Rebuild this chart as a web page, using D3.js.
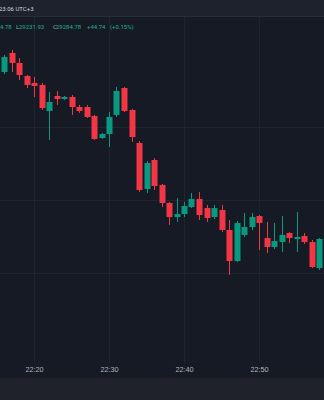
<!DOCTYPE html>
<html>
<head>
<meta charset="utf-8">
<script src="https://cdn.jsdelivr.net/npm/d3@7"></script>
<style>
  html, body { margin: 0; padding: 0; background: #161a25; overflow: hidden; }
  svg { display: block; font-family: Roboto, "Noto Sans", sans-serif; }
</style>
</head>
<body>
<div id="chart"></div>
<script>
// 1-minute candles, minutes after 22:00
const minutes = [16, 17, 18, 19, 20, 21, 22, 23, 24, 25, 26, 27, 28, 29, 30, 31, 32, 33, 34, 35, 36, 37,
    38, 39, 40, 41, 42, 43, 44, 45, 46, 47, 48, 49, 50, 51, 52, 53, 54, 55, 56, 57, 58];
const opens = [29575.3, 29601.4, 29587.7, 29569.9, 29560.3, 29557.6, 29521.9, 29542.5, 29538.4, 29541.1,
    29527.4, 29527.4, 29515.1, 29484.9, 29490.4, 29516.5, 29553.4, 29523.3, 29478.1, 29415.1, 29454.8,
    29420.6, 29395.9, 29376.7, 29380.8, 29390.4, 29401.4, 29389.0, 29376.7, 29386.3, 29358.9, 29316.4,
    29352.1, 29363.0, 29378.1, 29347.9, 29335.6, 29342.5, 29354.8, 29346.6, 29350.7, 29342.5, 29306.8];
const highs = [29598.6, 29605.5, 29594.5, 29571.2, 29568.5, 29560.3, 29548.0, 29549.3, 29542.5, 29543.9,
    29530.2, 29530.2, 29516.5, 29491.8, 29520.6, 29554.8, 29554.8, 29524.7, 29480.8, 29453.4, 29457.5,
    29421.9, 29397.3, 29402.7, 29397.3, 29409.6, 29411.0, 29393.2, 29393.2, 29393.2, 29372.6, 29371.2,
    29382.2, 29382.2, 29379.4, 29369.9, 29368.5, 29378.1, 29356.2, 29383.6, 29354.8, 29345.2, 29347.9];
const lows = [29572.6, 29575.3, 29564.4, 29553.4, 29541.1, 29523.3, 29482.2, 29530.2, 29537.0, 29516.5,
    29519.2, 29512.3, 29482.2, 29483.6, 29472.6, 29513.7, 29520.6, 29479.5, 29411.0, 29409.6, 29413.7,
    29390.4, 29365.8, 29369.9, 29376.7, 29389.0, 29372.6, 29369.9, 29374.0, 29356.2, 29297.3, 29315.1,
    29349.3, 29358.9, 29331.5, 29327.4, 29332.9, 29328.8, 29341.1, 29328.8, 29339.7, 29306.8, 29304.1];
const closes = [29595.9, 29587.7, 29571.2, 29557.6, 29556.2, 29526.0, 29534.3, 29538.4, 29541.1, 29527.4,
    29521.9, 29513.7, 29483.6, 29490.4, 29513.7, 29549.3, 29521.9, 29486.3, 29413.7, 29450.7, 29419.2,
    29395.9, 29376.7, 29380.8, 29391.8, 29401.4, 29379.4, 29375.3, 29389.0, 29358.9, 29316.4, 29368.5,
    29363.0, 29376.7, 29368.5, 29335.6, 29343.8, 29352.1, 29347.9, 29349.3, 29342.5, 29308.2, 29346.6];

const gridPrices = [29300, 29400, 29500];
const timeTicks = [20, 30, 40, 50];
const headerTime = '23:06 UTC+3';
const ohlcParts = [
    { text: '4.78', x: 0, cls: 'val' },
    { text: 'L', x: 16, cls: 'lab' },
    { text: '29231.93', x: 19, cls: 'val' },
    { text: 'C', x: 53, cls: 'lab' },
    { text: '29284.78', x: 56, cls: 'val' },
    { text: '+44.74', x: 87, cls: 'val' },
    { text: '(+0.15%)', x: 110, cls: 'val' }
];

const width = 324, height = 400;
const up = '#089981', down = '#f23645';

const toDate = m => new Date(2023, 0, 1, 22, m);
const candles = minutes.map((m, i) => ({
    t: toDate(m), o: opens[i], h: highs[i], l: lows[i], c: closes[i]
}));

const svg = d3.select('#chart').append('svg')
    .attr('width', width)
    .attr('height', height);

svg.append('rect')
    .attr('width', width).attr('height', height)
    .attr('fill', '#161a25');

const xScale = d3.scaleTime()
    .domain([toDate(20), toDate(50)])
    .range([34, 259]);

const yScale = d3.scaleLinear()
    .domain([29200, 29600])
    .range([346, 54]);

// grid
svg.append('g').selectAll('line')
    .data(gridPrices)
    .join('line')
    .attr('x1', 0).attr('x2', width)
    .attr('y1', d => Math.round(yScale(d)) + 0.5)
    .attr('y2', d => Math.round(yScale(d)) + 0.5)
    .attr('stroke', '#20242f');

svg.append('g').selectAll('line')
    .data(timeTicks)
    .join('line')
    .attr('x1', d => Math.round(xScale(toDate(d))) + 0.5)
    .attr('x2', d => Math.round(xScale(toDate(d))) + 0.5)
    .attr('y1', 17).attr('y2', 363)
    .attr('stroke', '#20242f');

// candles
const bodyW = 6;
const g = svg.append('g');

g.selectAll('.wick')
    .data(candles)
    .join('line')
    .attr('class', 'wick')
    .attr('x1', d => Math.round(xScale(d.t)) + 0.5)
    .attr('x2', d => Math.round(xScale(d.t)) + 0.5)
    .attr('y1', d => yScale(d.h))
    .attr('y2', d => yScale(d.l))
    .attr('stroke', d => d.c >= d.o ? up : down)
    .attr('stroke-width', 1);

g.selectAll('.body')
    .data(candles)
    .join('rect')
    .attr('class', 'body')
    .attr('x', d => Math.round(xScale(d.t)) - bodyW / 2 + 0.5)
    .attr('y', d => yScale(Math.max(d.o, d.c)))
    .attr('width', bodyW)
    .attr('height', d => Math.max(1.5, Math.abs(yScale(d.o) - yScale(d.c))))
    .attr('fill', d => d.c >= d.o ? up : down);

// time axis
const xAxis = d3.axisBottom(xScale)
    .tickValues(timeTicks.map(toDate))
    .tickFormat(d3.timeFormat('%H:%M'))
    .tickSize(0);

const xAxisG = svg.append('g')
    .attr('transform', 'translate(0,365)')
    .call(xAxis);
xAxisG.select('.domain').remove();
xAxisG.selectAll('text')
    .attr('fill', '#b2b5be')
    .style('font-size', '7.3px')
    .attr('dy', '0.6em');

// bottom bar
svg.append('rect')
    .attr('x', 0).attr('y', 378)
    .attr('width', width).attr('height', 22)
    .attr('fill', '#1f222b');

// top bar with time
svg.append('rect')
    .attr('x', 0).attr('y', 0)
    .attr('width', width).attr('height', 16)
    .attr('fill', '#1e222d');
svg.append('line')
    .attr('x1', 0).attr('x2', width)
    .attr('y1', 16.5).attr('y2', 16.5)
    .attr('stroke', '#2a2e39');
svg.append('text')
    .attr('x', -1).attr('y', 11)
    .attr('fill', '#d1d4dc')
    .style('font-size', '6px')
    .text(headerTime);

// OHLC legend
svg.append('g').selectAll('text')
    .data(ohlcParts)
    .join('text')
    .attr('x', d => d.x)
    .attr('y', 29)
    .attr('fill', d => d.cls === 'val' ? '#22ab94' : '#7fa8a0')
    .style('font-size', '6px')
    .text(d => d.text);
</script>
</body>
</html>
